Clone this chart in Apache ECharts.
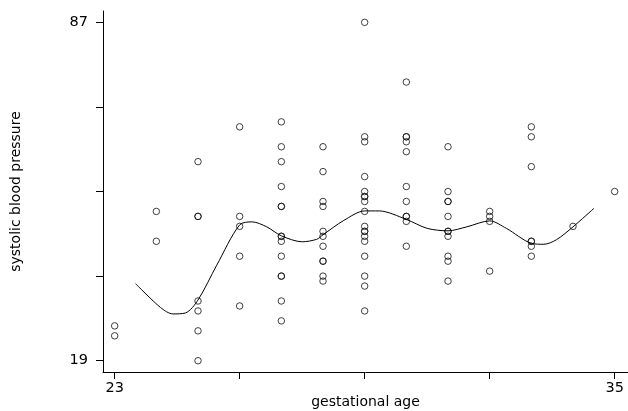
<!DOCTYPE html>
<html>
<head>
<meta charset="utf-8">
<script src="https://cdn.jsdelivr.net/npm/echarts@6/dist/echarts.min.js"></script>
<style>
  html, body { margin: 0; padding: 0; background: #fff; }
  #chart { width: 628px; height: 411px; }
</style>
</head>
<body>
<div id="chart"></div>
<script>
// gestational age (weeks) for each column of points
const ages = [23, 24, 25, 26, 27, 28, 29, 30, 31, 32, 33, 34, 35];
// systolic blood pressure readings, one list per age above
const sbp23 = [26, 24];
const sbp24 = [49, 43];
const sbp25 = [59, 48, 48, 31, 29, 25, 19];
const sbp26 = [66, 48, 46, 40, 30];
const sbp27 = [67, 62, 59, 54, 50, 50, 44, 44, 43, 40, 36, 36, 31, 27];
const sbp28 = [62, 57, 51, 50, 45, 44, 42, 39, 39, 36, 35];
const sbp29 = [87, 64, 63, 56, 53, 52, 52, 51, 49, 46, 45, 45, 44, 43, 40, 36, 34, 29];
const sbp30 = [75, 64, 64, 63, 61, 54, 51, 48, 48, 47, 42];
const sbp31 = [62, 53, 51, 51, 48, 45, 45, 44, 40, 39, 35];
const sbp32 = [49, 48, 47, 37];
const sbp33 = [66, 64, 58, 43, 43, 42, 40];
const sbp34 = [46];
const sbp35 = [53];
const sbpByAge = [sbp23, sbp24, sbp25, sbp26, sbp27, sbp28, sbp29, sbp30, sbp31, sbp32, sbp33, sbp34, sbp35];

// smoothed fit line
const curveAge = [23.5, 24.1, 24.4, 24.7, 25, 25.45, 26, 26.3, 26.65, 27, 27.5, 27.85, 28, 28.5, 29, 29.35, 30, 30.5, 31, 31.45, 32, 32.4, 33, 33.3, 33.6, 34, 34.5];
const curveSbp = [34.5, 29.7, 28.4, 28.6, 31.2, 38.2, 46.3, 46.9, 45.9, 44.1, 42.9, 43.4, 44.3, 47.2, 49.1, 49.1, 47.4, 45.6, 45.1, 45.9, 47.1, 45.6, 42.6, 42.4, 43.3, 45.9, 49.6];

const xTicks = [23, 26, 29, 32, 35];
const xLabels = [23, 35];
const yTicks = [19, 36, 53, 70, 87];
const yLabels = [19, 87];

const points = [];
ages.forEach((a, i) => {
    sbpByAge[i].forEach(v => points.push([a, v]));
});
const curve = curveAge.map((a, i) => [a, curveSbp[i]]);

const chart = echarts.init(document.getElementById('chart'));
const font = 'DejaVu Sans, Verdana, sans-serif';
chart.setOption({
    animation: false,
    grid: {left: 103, right: 0, top: 11, bottom: 39, outerBoundsMode: 'none'},
    xAxis: {
        type: 'value',
        min: 22.72,
        max: 35.32,
        name: 'gestational age',
        nameLocation: 'middle',
        nameGap: 23,
        nameMoveOverlap: false,
        nameTextStyle: {color: '#000', fontSize: 14, fontFamily: font},
        splitLine: {show: false},
        axisLine: {onZero: false, lineStyle: {color: '#000', width: 1}},
        axisTick: {show: true, length: 7, customValues: xTicks, lineStyle: {color: '#000'}},
        axisLabel: {customValues: xLabels, color: '#000', fontSize: 14.5, fontFamily: font, margin: 9}
    },
    yAxis: {
        type: 'value',
        min: 16.73,
        max: 89.28,
        name: 'systolic blood pressure',
        nameLocation: 'middle',
        nameGap: 80,
        nameMoveOverlap: false,
        nameTextStyle: {color: '#000', fontSize: 14, fontFamily: font},
        splitLine: {show: false},
        axisLine: {show: true, onZero: false, lineStyle: {color: '#000', width: 1}},
        axisTick: {show: true, length: 7, customValues: yTicks, lineStyle: {color: '#000'}},
        axisLabel: {customValues: yLabels, color: '#000', fontSize: 14.5, fontFamily: font, margin: 15}
    },
    series: [
        {
            type: 'scatter',
            data: points,
            symbol: 'circle',
            symbolSize: 6.5,
            itemStyle: {color: 'rgba(0,0,0,0)', borderColor: '#111', borderWidth: 1}
        },
        {
            type: 'line',
            data: curve,
            showSymbol: false,
            smooth: 0.3,
            lineStyle: {color: '#000', width: 1}
        }
    ]
});
</script>
</body>
</html>
